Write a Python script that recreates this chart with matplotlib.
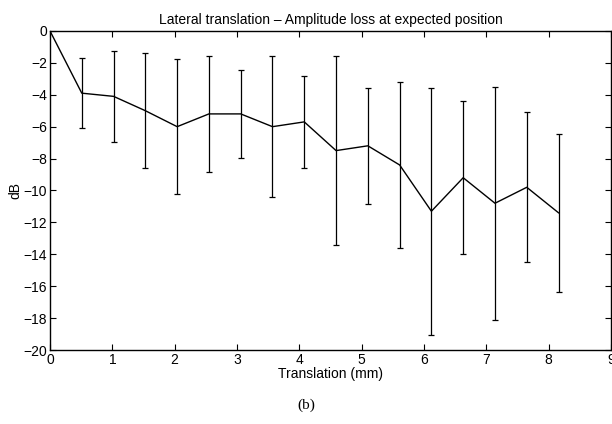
import matplotlib
matplotlib.use("Agg")
import matplotlib.pyplot as plt

plt.rcParams['font.family'] = ['Liberation Sans', 'DejaVu Sans']

translation_mm = [0, 0.51, 1.02, 1.53, 2.04, 2.55, 3.06, 3.57, 4.08, 4.59,
                  5.10, 5.61, 6.12, 6.63, 7.14, 7.65, 8.16]
mean_db = [0, -3.9, -4.1, -5.0, -6.0, -5.2, -5.2, -6.0, -5.7, -7.5,
           -7.2, -8.4, -11.3, -9.2, -10.8, -9.8, -11.4]
err_db = [0, 2.2, 2.85, 3.6, 4.25, 3.65, 2.75, 4.4, 2.9, 5.9,
          3.65, 5.2, 7.75, 4.8, 7.3, 4.7, 4.95]

x_ticks = list(range(0, 10))
y_ticks = list(range(-20, 1, 2))

fig = plt.figure(figsize=(6.12, 4.24), dpi=100)
ax = fig.add_axes([0.0817, 0.1745, 0.9165, 0.7525])

ax.plot(translation_mm, mean_db, color='black', lw=1.0)
ax.errorbar(translation_mm[1:], mean_db[1:], yerr=err_db[1:], fmt='none',
            ecolor='black', elinewidth=0.9, capsize=2.5, capthick=0.9)

ax.set_xlim(0, 9)
ax.set_ylim(-20, 0)
ax.set_xticks(x_ticks)
ax.set_yticks(y_ticks)
ax.set_yticklabels([str(t).replace('-', '\u2212') for t in y_ticks])
ax.tick_params(direction='in', top=True, right=True, labelsize=10,
               length=4, width=0.8, pad=2)
for s in ax.spines.values():
    s.set_linewidth(1.0)

ax.set_xlabel('Translation (mm)', fontsize=10, labelpad=0)
ax.set_ylabel('dB', fontsize=10, labelpad=1)
ax.set_title('Lateral translation \u2013 Amplitude loss at expected position',
             fontsize=10, pad=5)

fig.text(0.5, 0.045, '(b)', ha='center', va='center', fontsize=11,
         family=['Liberation Serif', 'DejaVu Serif'])

fig.savefig('out.png', dpi=100)
